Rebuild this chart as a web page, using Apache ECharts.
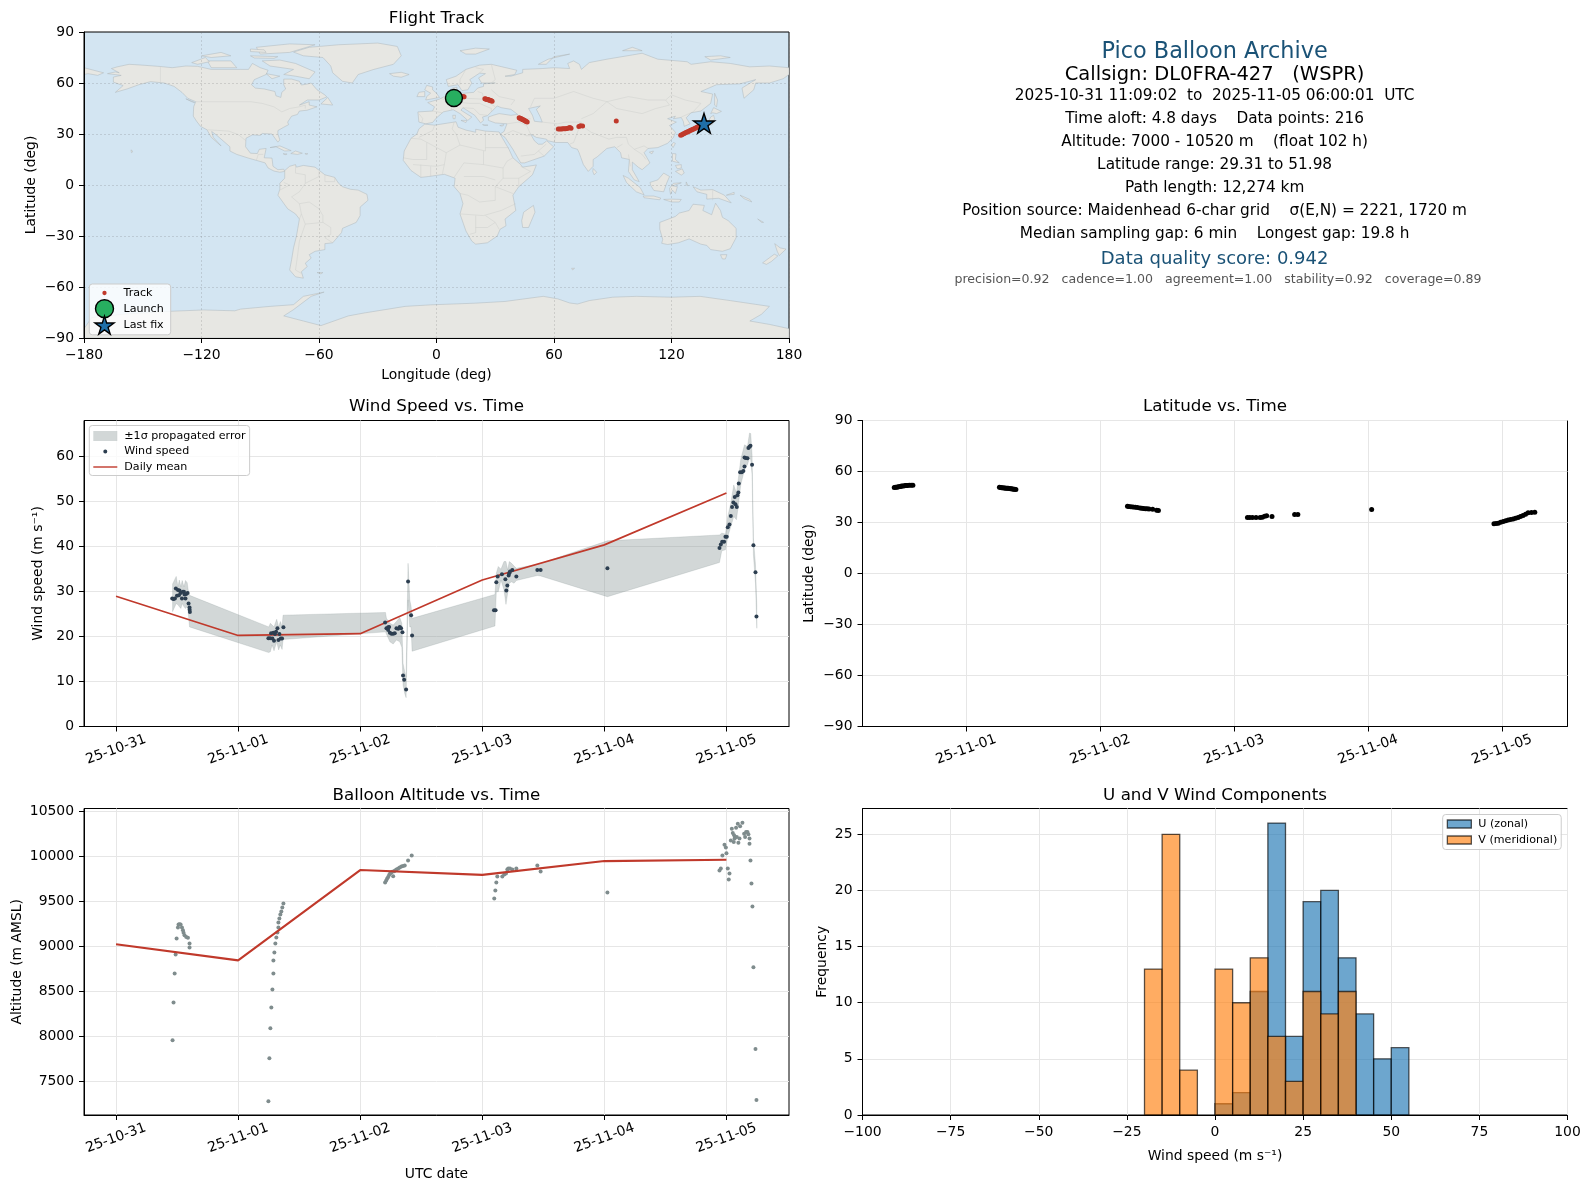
<!DOCTYPE html>
<html><head><meta charset="utf-8">
<style>html,body{margin:0;padding:0;background:#fff}#c{width:1589px;height:1189px}</style>
<script src="https://cdn.jsdelivr.net/npm/echarts@6/dist/echarts.min.js"></script>
</head><body><div id="c"></div>
<script>
// ---------- text ----------
const infoLines = [
 ['Pico Balloon Archive', 52, 22.4, '#1a5276', 1214.6],
 ['Callsign: DL0FRA-427   (WSPR)', 74.6, 19.5, '#000', 1214.6],
 ['2025-10-31 11:09:02  to  2025-11-05 06:00:01  UTC', 96, 15.3, '#000', 1214.6],
 ['Time aloft: 4.8 days    Data points: 216', 119, 15.3, '#000', 1214.6],
 ['Altitude: 7000 - 10520 m    (float 102 h)', 142.4, 15.3, '#000', 1214.6],
 ['Latitude range: 29.31 to 51.98', 165.2, 15.3, '#000', 1214.6],
 ['Path length: 12,274 km', 188.2, 15.3, '#000', 1214.6],
 ['Position source: Maidenhead 6-char grid    σ(E,N) = 2221, 1720 m', 211.5, 15.3, '#000', 1214.6],
 ['Median sampling gap: 6 min    Longest gap: 19.8 h', 234.2, 15.3, '#000', 1214.6],
 ['Data quality score: 0.942', 259, 18, '#1a5276', 1214.6],
 ['precision=0.92   cadence=1.00   agreement=1.00   stability=0.92   coverage=0.89', 279.4, 12.57, '#555', 1218]
];
const dayTicks = [0,1,2,3,4,5];
const dayLabels = ['25-10-31','25-11-01','25-11-02','25-11-03','25-11-04','25-11-05'];

// ---------- map: land outlines as [lon,lat] ----------
const landShapes = [
 [[-168,65.5],[-164,66.5],[-162,66],[-166,68.5],[-163,69.5],[-157,71],[-150,70.5],[-141,69.7],[-135,69],[-128,70],[-122,69.8],[-115,68],[-108,68],[-100,68],[-96,68],[-94,71.5],[-90,69],[-86,67.5],[-87,65],[-93,62],[-94.5,59],[-92.5,57],[-88,56.5],[-82.5,55],[-82,52.5],[-79.5,51.5],[-79,54.5],[-77,56.5],[-78,59],[-78,62.3],[-74,62.3],[-70,61],[-69,58.8],[-65.5,59.5],[-64,60],[-61,56],[-57,53],[-56,51.8],[-60,50],[-66,50],[-70,47],[-65,49],[-65,47],[-61,46],[-66,44],[-70,43.5],[-71,41.5],[-74,40.5],[-76,37],[-75.5,35.5],[-78,34],[-81,32],[-81,30],[-80,26.5],[-81,25.2],[-82.5,27.5],[-84,30],[-89,30.3],[-90,29.2],[-94,29.5],[-97.3,27.5],[-97.5,22.5],[-95,18.7],[-91.5,18.5],[-90.5,21],[-87,21.5],[-88,16],[-84,15.8],[-83.5,11],[-81,9],[-78,9.3],[-77.5,8],[-80,7.5],[-83,8.2],[-86,10],[-87.5,13],[-92,14.5],[-96,15.8],[-102,18],[-105.5,20],[-105.5,22.5],[-109,26],[-112.5,29.5],[-114.8,31.5],[-114,28],[-110,23],[-112,25],[-115,28],[-117.2,32.5],[-120.5,34.5],[-122.5,37.5],[-124.2,40.5],[-124,46],[-123,49],[-127,51],[-130,54.5],[-134,58],[-139,60],[-146,60.8],[-152,59],[-158,56.5],[-164,54.5],[-160,58.5],[-165,60.5],[-165,63.5],[-161,64.5]],
 [[-73,78.2],[-65,81],[-50,82.5],[-30,83.5],[-20,81.5],[-18,76],[-22,71],[-32,68],[-40,65],[-43,60],[-48,61],[-53,66],[-54,70],[-58,75],[-68,76]],
 [[-80,73.5],[-72,71.5],[-62,66.5],[-65,62.5],[-72,64],[-78,65],[-73,68],[-85,70],[-89,73]],
 [[-117,73],[-105,73],[-102,69],[-115,69]],
 [[-125,72],[-118,75],[-116,72.5],[-122,71]],
 [[-90,77],[-75,78],[-62,82.5],[-75,83],[-92,81]],
 [[-95,76],[-81,75.5],[-83,74.5],[-93,74.7]],
 [[-120,76],[-110,78],[-105,76],[-115,75]],
 [[-95,80],[-88,79.5],[-87,78],[-95,78.5]],
 [[-87,65.5],[-80,64],[-84,62.5]],
 [[-59,47.7],[-55.5,51.5],[-53,47]],
 [[-128,50.7],[-123.5,48.5],[-125,49]],
 [[-85,22],[-80,23],[-74.2,20.2],[-77.5,20],[-82,22.5]],
 [[-74.4,18.5],[-72,20],[-68.5,18.7],[-71,18]],
 [[-78.3,18.4],[-76.3,18.2],[-77.3,17.8]],
 [[-67.2,18.5],[-65.7,18.4],[-66.5,18]],
 [[-156,20.7],[-155,19.7],[-155.8,19]],
 [[-77.5,8.5],[-75,11],[-72,12],[-71.5,10.5],[-68,11.5],[-62,10.5],[-57,6],[-52,4.5],[-50,1],[-48,-1],[-44,-2.5],[-40,-3],[-35.5,-5.5],[-35,-9],[-39,-13],[-39,-18],[-41,-22],[-48,-25.5],[-48.5,-28],[-53,-34],[-57,-34.5],[-57,-38],[-62,-39],[-65,-41],[-64,-43],[-67,-46],[-66,-48],[-69,-51],[-68,-54.8],[-72,-54],[-75,-50],[-74,-44],[-73,-37],[-71.5,-30],[-70,-20],[-72,-17],[-76,-14],[-81,-6],[-80,-2.5],[-80,1],[-77.5,4]],
 [[-61,-51.5],[-58,-51.5],[-59,-52.3]],
 [[-180,-84.5],[-176,-78],[-160,-76],[-136,-74.3],[-119,-73.5],[-103,-74],[-100,-73],[-85,-71.4],[-73,-70.4],[-68,-65.5],[-57.4,-63],[-64,-65.5],[-73,-73.3],[-78,-77],[-68,-80],[-59,-82.7],[-45,-77],[-37,-75.3],[-16,-71.4],[-3,-70.5],[20,-69.5],[35,-68.5],[54.5,-65.5],[62,-67],[68,-69.4],[72,-70],[78,-68],[90,-66],[102,-65.5],[120,-66],[134.6,-65.5],[150,-68],[170,-71.4],[166,-76],[160,-80],[170,-82],[180,-84.5],[180,-90],[-180,-90]],
 [[-9,37],[-9.5,43],[-2,43.5],[-1,46],[-4.5,48.5],[1.5,50.5],[4,52],[8,54],[8,57],[10.5,57.5],[10,54.5],[14,54],[19,54.5],[21,57],[24,58],[24,59.5],[30,60],[23,60],[21.5,63],[25,65.5],[22,65.8],[17,62],[18,60],[16,56],[13,55.5],[11,59],[6,58],[5,62],[10,64],[15,68],[22,70.5],[28,71],[41,67.5],[40,65],[35,64],[38,64],[44,66],[44,68],[54,68.5],[60,69],[68,68.5],[67,71.5],[70,73],[73,71],[74,68],[78,72],[87,74],[100,76.5],[105,77.5],[113,74],[128,72.5],[130,71],[140,72.5],[150,71.5],[160,69.5],[170,70],[180,69],[180,65],[177,62.5],[170,60],[163,60],[162,56],[157,51],[156,57],[163,62],[155,59.5],[143,59],[135,55],[141,53.5],[140,48],[135,43.5],[130,42.5],[127.5,39.5],[129.5,36],[126.5,34.5],[126,37.5],[125,39.7],[121,39],[122,40.5],[118,39],[122.5,37],[119,35],[122,31],[121,28],[118,24.5],[113,22],[108,21.5],[106,19],[109,13],[105,9],[103,10.5],[100,13.5],[100,9],[103.5,2],[101,3],[98,8],[98.5,15],[94.5,16],[94,19],[91,22.5],[87,21.5],[82,16.5],[80,15],[80,11],[77.5,8],[75,12],[72.8,19],[72,21],[69,22],[67,25],[61,25],[57,26],[56,27],[51,28],[48,30],[50,26],[52,24],[54,24],[56.3,26],[59.8,22.5],[55,17],[45,13],[43,13],[39,21],[35,28],[32.5,30],[34.5,31.5],[36,36],[30,36.5],[26.5,38],[26.5,40],[29,41],[32,42],[38,41],[41.5,41.5],[38,44.5],[33,45.5],[31,46.5],[28,43],[26,40.8],[23.5,40],[24,38],[22.5,36.5],[19.5,41],[13.5,45.5],[12.5,44],[18,40],[16,38],[12,42],[8.5,44.3],[3.5,43],[0,39.5],[-2,36.8],[-5.5,36]],
 [[-180,69],[-175,67.5],[-170,66],[-173,64.5],[-178,65.5],[-180,65]],
 [[-6,35.8],[-1,35.2],[10,37.2],[11,34],[15,32.3],[20,31],[20,32.8],[25,31.7],[32,31.2],[32.5,30],[34,27],[37,21],[39,16],[43,12],[44,10.5],[51,11.8],[49,6],[42,-1],[39,-6],[40.5,-15],[35,-20],[35.5,-24],[32.5,-26],[31,-30],[26,-34],[20,-34.8],[18,-33],[15,-27],[12,-17],[13.5,-11],[12,-5],[9,-1],[9.5,4],[4,6.3],[-4,5],[-8,4.5],[-13,8.5],[-17,14.5],[-16.5,20],[-13,27.5],[-10,30],[-9,33]],
 [[49.5,-12],[50.3,-16],[47,-25],[44,-25],[43.5,-21],[44.5,-16]],
 [[-5.5,50],[1.5,51.5],[0,54],[-2,56],[-2,57.7],[-5,58.6],[-6,56],[-3,54],[-5,52]],
 [[-10,52],[-6,52],[-6,55],[-9,54.5]],
 [[-24,65.5],[-18,66.3],[-14,65],[-18,63.4],[-22,64]],
 [[12,79],[20,80.5],[27,80],[20,77],[15,77]],
 [[52,71],[57,74],[68,77],[60,75.5],[56,71]],
 [[95,79],[105,79],[100,81]],
 [[137,75.5],[145,76],[150,75],[140,73.5]],
 [[142,54],[143.5,50],[143,46],[142,47],[142,52]],
 [[130.8,34],[135,35.7],[139,37.5],[140,40],[141.5,41],[142,39],[140.8,35.5],[137,34.5],[135,33.5],[132,33.5]],
 [[130,33.5],[132,33],[131,31],[130,31.5]],
 [[140,42],[141.5,45.5],[145.5,43.3],[143,42],[141,42.5]],
 [[121,25],[122,24.5],[120.8,22],[120,23.5]],
 [[108.7,19.3],[110.8,20],[110,18.3]],
 [[120.5,18.5],[122.3,18.3],[122,15],[124,13],[120.5,14]],
 [[122,8],[125.5,9.5],[126.5,7],[125,5.8]],
 [[122,11.5],[125,12],[125,10],[123,9.5]],
 [[109,1.5],[113,3],[116,7],[119,5],[117.5,1],[116,-4],[111,-3.2],[109.5,-0.5]],
 [[95.3,5.6],[98,4],[104,-1.5],[106,-5.8],[102,-4],[97,1.5]],
 [[105.5,-6.5],[111,-6.5],[114.5,-7.7],[114,-8.7],[106,-7.5]],
 [[119.5,-5.5],[119,-2],[121,1],[125,1.3],[120.5,-0.5],[123,-1],[122,-5],[120.5,-3]],
 [[131,-1],[135,-3],[141,-2.7],[147,-6],[150.5,-10.5],[144,-7.8],[138,-8.3],[138,-5.5],[133,-4]],
 [[116,-8.5],[120,-8.3],[125,-8.5],[124,-10],[120,-10]],
 [[148,-6],[152,-4.3],[152,-5.5]],
 [[127.5,1.8],[128.5,-0.5],[127.5,0]],
 [[155,-6],[160,-8.5],[161,-10],[157,-8]],
 [[80,9.7],[81.8,7.5],[80.5,6],[79.8,8]],
 [[114,-22],[114,-26],[115.5,-32],[115,-34.3],[118,-35],[123.5,-34],[129,-31.7],[135,-34.8],[138,-35.5],[140,-38],[146,-39],[150,-37.5],[153,-31],[153,-25.5],[149,-21],[146,-19],[145,-15],[142.5,-10.7],[141.5,-14],[140.5,-17.5],[136,-15],[136.8,-12],[131,-11.3],[129,-15],[124,-16.5],[122,-18.5]],
 [[145,-41],[148.3,-41],[147.5,-43.5],[146,-43.5]],
 [[172.7,-34.5],[175.5,-37],[178.5,-37.7],[175,-41.5],[174,-39]],
 [[172.5,-40.7],[174.3,-41.7],[171,-45],[168.5,-46.7],[166.5,-45.8]],
 [[69,-49],[70.5,-49],[69.5,-50]],
 [[164,-20],[167,-22],[166,-22]],
 [[12.5,38],[15.5,38],[15,36.7]],
 [[8.3,41],[9.7,41],[9.5,39],[8.5,39]],
 [[23.5,35.5],[26.3,35.2],[24.5,35]],
 [[32.3,35],[34.5,35.5],[33.5,34.6]]
];
const waterShapes = [
 [[47,45],[53,46.5],[51,44.5],[53,40],[54,37],[50,37.5],[49,41]]
];
const borderLines = [
 [[-141,69.7],[-141,60]],
 [[-123,49],[-95,49],[-89,48],[-83,46],[-79,43],[-75,45],[-70,46],[-67,47],[-67,45]],
 [[-117,32.5],[-106,31.7],[-101,29.5],[-97.3,26]],
 [[-92,14.5],[-91,18],[-88.5,18]],
 [[-72,12],[-72,7],[-67,6],[-67,1],[-70,-4],[-74,-7],[-70,-11],[-69,-17],[-70,-20]],
 [[-67,1],[-60,5],[-60,8]],[[-57,6],[-57,2],[-52,2],[-52,4.5]],[[-80,-3],[-75,0],[-78,1.5]],
 [[-70,-11],[-65,-10],[-60,-14],[-58,-18],[-58,-22],[-54,-25],[-54,-29],[-57,-31],[-53,-34]],
 [[-69,-17],[-67,-23],[-58,-22]],[[-67,-23],[-70,-33],[-71,-42],[-72,-50],[-69,-52]],
 [[-2,43.5],[3,42.5]],[[-9,42],[-7,39],[-7.5,37]],[[2,51],[6,49.5],[8,47.5],[7.5,44]],[[7,53.5],[6,50]],[[14,54],[15,51],[12.5,48.5],[8,47.5]],
 [[15,51],[24,50.5],[23.5,54],[21,55]],[[24,50.5],[30,46]],[[12.5,48.5],[17,48],[22,48],[28,45],[28,43]],[[13.5,45.5],[19,45],[22,41.5],[26,41]],
 [[28,56],[32,52],[40,50],[38,47]],[[28,71],[30,62],[28,60]],[[22,66],[24,68],[20,69]],[[15,68],[12,62],[12,59]],
 [[48,46],[50,51],[60,51],[70,55],[80,51],[87,49]],[[87,49],[98,52],[108,50],[117,50],[120,53],[127,50],[135,48],[131,43]],
 [[87,49],[92,45],[105,42],[112,45],[119,47],[117,50]],[[131,43],[125,40]],
 [[74,39],[80,42],[87,49]],[[54,37],[62,36],[66,37],[74,37]],[[60,25],[61,30],[61,36]],[[74,37],[72,31],[70,25],[68,24]],[[74,35],[79,31],[88,27],[92,28],[97,28],[98,24],[101,21],[106,23],[108,21.5]],
 [[92,22],[95,24]],[[101,21],[105,18],[107,15]],[[99,11],[98,18]],
 [[36,36],[42,37],[46,35],[48,30]],[[34.5,29.5],[39,32],[46,29],[48,29]],[[56,24],[52,20],[55,17]],[[43,17],[50,18],[52,20]],[[42,37],[45,39],[48,39]],
 [[-9,28],[-2,32],[-1,35]],[[-13,27.5],[-8,27],[5,19],[12,23.5],[10,30],[8,33],[9,37]],[[12,23.5],[25,20],[25,31.7]],[[25,22],[37,22]],[[-17,16],[-12,15],[-5,15],[-5,25]],
 [[5,19],[4,12],[3,6.5]],[[14,13],[24,12],[24,20]],[[14,13],[9,4.5]],[[24,12],[34,10],[36,14],[39,16]],[[34,10],[34,4],[42,4],[42,-1]],[[42,4],[48,8],[43,11]],[[34,4],[30,-1],[39,-5]],
 [[14,5],[24,5],[30,3]],[[12,-5],[16,-6],[22,-10],[30,-9],[30,-1]],[[12,-17],[24,-18],[33,-15],[40.5,-11]],[[20,-18],[20,-28],[17,-29]],[[25,-18],[30,-22],[32,-26]],[[20,-25],[26,-25],[30,-22]],
 [[-8,12],[-8,4.5]],[[-3,11],[-3,5]],[[-12,12],[0,11],[4,12]],
 [[141,-2.7],[141,-9]]
];

// ---------- map: track ----------
const trackLon = [9.0,9.4,9.8,10.3,10.8,11.3,11.8,12.2,12.7,13.2,13.6,14.1,24.7,25.1,25.5,25.9,26.3,26.7,27.1,27.5,28.0,28.4,42.2,42.6,43.0,43.4,43.8,44.2,44.6,45.0,45.4,45.8,46.3,62.2,63.0,63.8,64.5,65.2,65.9,66.6,67.4,68.1,68.7,72.7,73.5,74.6,91.8,124.7,125.3,125.9,126.5,127.1,127.7,128.3,128.9,129.5,130.1,130.7,131.3,131.9,132.5,133.1,133.7,134.3,134.9,135.5,136.3];
const trackLat = [50.6,50.8,51.0,51.2,51.4,51.5,51.6,51.7,51.8,51.9,51.95,51.98,50.8,50.6,50.4,50.3,50.2,50.1,49.9,49.7,49.5,49.2,39.5,39.3,39.1,38.9,38.6,38.4,38.2,38.0,37.7,37.3,37.0,33.0,33.0,33.0,33.1,33.1,33.1,33.2,33.6,33.8,33.4,34.4,34.9,34.7,37.65,29.3,29.6,30.0,30.3,30.7,31.0,31.3,31.6,32.0,32.3,32.7,33.0,33.3,33.7,34.0,34.4,34.8,35.2,35.6,36.1];
const launchLonLat = [8.9, 51.2];
const lastFixLonLat = [136.6, 36.3];

// ---------- wind ----------
const windDay = [.460,.471,.482,.490,.499,.507,.515,.520,.529,.540,.548,.556,.561,.569,.575,.586,.594,.602,.603,.605,
 1.248,1.262,1.270,1.281,1.289,1.294,1.302,1.311,1.322,1.330,1.338,1.349,1.360,1.371,
 2.204,2.215,2.229,2.237,2.229,2.243,2.256,2.270,2.283,2.297,2.311,2.324,2.335,2.346,2.351,2.360,2.376,2.392,2.417,2.425,
 3.096,3.109,3.115,3.126,3.161,3.189,3.197,3.205,3.216,3.221,3.227,3.246,3.279,3.451,3.478,4.025,
 4.943,4.954,4.965,4.981,4.992,5.003,5.011,5.025,5.036,5.046,5.057,5.068,5.074,5.085,5.090,5.098,5.101,5.112,5.126,5.139,5.148,5.148,5.158,5.172,5.180,5.189,5.197,5.210,5.221,5.238,5.246];
const windSpeed = [28.4,28.3,28.4,30.6,29.0,30.3,29.1,30.2,29.6,28.4,29.9,29.9,29.3,28.4,29.4,29.6,27.3,26.4,25.9,25.4,
 19.6,19.6,20.7,19.5,20.8,19.0,20.5,21.0,21.8,19.2,20.5,19.5,19.5,22.0,
 23.1,21.8,22.0,22.1,21.4,20.8,20.6,20.6,20.7,21.8,21.7,22.1,21.8,20.9,11.3,10.4,8.2,32.2,24.7,20.2,
 25.8,25.8,32.0,33.3,33.8,32.7,30.2,31.3,33.5,34.0,34.4,34.7,33.3,34.7,34.7,35.1,
 39.6,40.4,41.0,41.0,42.1,42.1,44.2,44.8,46.7,48.7,49.7,50.9,49.3,48.7,51.3,51.9,53.9,56.4,56.4,56.7,57.7,59.7,59.6,59.5,61.8,62.1,62.3,58.1,40.2,34.2,24.4];
const bandDay = [.463,.493,.507,.518,.531,.542,.556,.569,.583,.591,.602,1.251,1.264,1.278,1.294,1.316,1.332,1.346,1.360,1.368,2.207,2.215,2.243,2.27,2.297,2.324,2.341,2.351,2.365,2.376,2.392,2.406,2.417,2.425,3.104,3.115,3.131,3.153,3.178,3.194,3.208,3.221,3.24,3.26,3.279,3.451,3.478,4.025,4.943,4.962,4.992,5.011,5.036,5.06,5.082,5.098,5.117,5.148,5.172,5.189,5.199,5.21,5.221,5.238,5.249];
const bandUpper = [31.6,33.3,31.0,32.5,31.0,32.4,31.0,32.4,31.9,30.3,29.1,22.1,22.9,22.5,22.1,23.8,22.1,23.3,22.1,24.7,25.3,24.0,22.9,22.5,23.3,24.2,22.9,14.0,12.1,11.0,36.2,28.1,26.6,24.0,29.3,34.0,35.5,34.9,36.6,36.6,34.7,36.6,36.2,35.6,35.1,36.0,36.2,41.2,42.5,42.9,42.7,46.6,49.6,53.6,51.8,55.1,59.2,62.5,62.1,65.1,65.0,60.3,41.8,35.9,26.6];
const bandLower = [25.5,27.3,27.0,26.6,26.2,27.3,26.6,26.2,26.6,25.5,22.1,16.4,16.6,18.1,16.8,18.8,17.0,18.1,17.1,19.3,21.0,20.5,18.8,18.3,19.2,18.8,17.6,9.2,7.3,6.4,28.1,22.1,22.1,16.7,22.3,29.9,29.9,32.5,30.3,27.1,29.6,31.8,32.1,31.8,32.4,33.5,33.4,28.8,36.4,39.0,39.2,42.1,44.4,46.6,45.9,49.2,53.6,57.0,58.1,59.6,59.2,55.9,38.1,31.8,21.8];
const meanDay = [0,1,2,3,4,5];
const meanWind = [28.9,20.2,20.6,32.5,40.3,51.8];

// ---------- latitude ----------
const latDay = [.463,.471,.480,.488,.496,.507,.512,.520,.529,.540,.548,.553,.561,.575,.589,.602,
 1.248,1.256,1.264,1.272,1.281,1.289,1.297,1.305,1.313,1.322,1.330,1.338,1.346,1.354,1.362,1.371,
 2.204,2.213,2.229,2.245,2.262,2.278,2.297,2.311,2.324,2.338,2.351,2.365,2.392,2.422,2.435,
 3.0997,3.117,3.137,3.164,3.194,3.211,3.228,3.243,3.283,3.452,3.476,4.027,
 4.94,4.956,4.972,4.990,5.009,5.028,5.046,5.064,5.083,5.101,5.12,5.138,5.157,5.176,5.195,5.22,5.245];
const latDeg = [50.6,50.7,50.8,50.9,51.1,51.2,51.3,51.4,51.5,51.6,51.7,51.75,51.8,51.85,51.9,51.98,
 50.7,50.6,50.5,50.4,50.3,50.25,50.2,50.15,50.1,50.0,49.9,49.8,49.7,49.6,49.5,49.4,
 39.5,39.4,39.3,39.1,38.95,38.8,38.6,38.4,38.3,38.15,38.1,38.0,37.8,37.2,37.1,
 32.95,32.95,32.95,32.95,32.95,33.1,33.7,33.9,33.5,34.7,34.7,37.65,
 29.3,29.4,29.6,30.1,30.6,31.0,31.4,31.7,32.0,32.5,33.0,33.5,34.1,34.9,35.7,35.9,36.1];

// ---------- altitude ----------
const altDay = [.463,.471,.480,.488,.496,.507,.512,.520,.529,.540,.548,.553,.561,.575,.589,.602,.602,
 1.248,1.256,1.264,1.272,1.281,1.289,1.289,1.297,1.305,1.313,1.322,1.330,1.330,1.338,1.346,1.354,1.362,1.371,
 2.204,2.213,2.221,2.229,2.237,2.245,2.253,2.262,2.270,2.278,2.286,2.297,2.311,2.324,2.338,2.351,2.365,2.392,2.422,
 3.098,3.107,3.115,3.123,3.164,3.180,3.194,3.205,3.213,3.227,3.246,3.279,3.451,3.478,4.025,
 4.943,4.954,4.967,4.984,4.995,5.0,5.011,5.025,5.019,5.036,5.044,5.052,5.060,5.063,5.067,5.072,5.079,5.085,5.098,5.093,5.107,5.112,5.131,5.145,5.153,5.161,5.172,5.180,5.189,5.189,5.197,5.205,5.213,5.221,5.238,5.246];
const altM = [7957,8378,8700,8911,9089,9211,9244,9248,9244,9211,9181,9152,9126,9104,9096,9033,8989,
 7278,7756,8089,8322,8522,8700,8844,8933,9033,9100,9156,9211,9267,9311,9356,9389,9433,9478,
 9711,9733,9756,9774,9796,9811,9819,9830,9781,9837,9844,9856,9867,9878,9889,9896,9900,9956,10011,
 9533,9622,9711,9778,9778,9800,9811,9856,9867,9867,9856,9867,9900,9833,9600,
 9844,9867,10011,10133,10100,10037,9867,9811,9744,10178,10311,10263,10163,10237,10200,10215,10322,10218,10155,10366,10200,10337,10377,10255,10218,10274,10274,10248,10200,10144,9956,9700,9445,8768,7858,7291];
const meanAlt = [9025,8845,9850,9797,9950,9965];

// ---------- histogram ----------
const binStart = [-20,-15,-10,-5,0,5,10,15,20,25,30,35,40,45,50];
const binWidth = 5;
const uCounts = [0,0,0,0,1,2,11,26,7,19,20,14,9,5,6];
const vCounts = [13,25,4,0,13,10,14,7,3,11,9,11,0,0,0];

// ---------- tick lists ----------
const latTicks = [-90,-60,-30,0,30,60,90];
const lonTicks = [-180,-120,-60,0,60,120,180];
const windTicks = [0,10,20,30,40,50,60];
const altTicks = [7500,8000,8500,9000,9500,10000,10500];
const histXTicks = [-100,-75,-50,-25,0,25,50,75,100];
const histYTicks = [0,5,10,15,20,25];

// ---------- build ----------
const FONT = '"DejaVu Sans", sans-serif';
const STAR = 'path://M50 0L61 35L98 35L68 57L79 91L50 70L21 91L32 57L2 35L39 35Z';
const DOT_MAP = 'path://M0 0L0 0M100 100L100 100M50 38A12 12 0 1 1 49.9 38Z';
const DOT_WIND = 'path://M0 0L0 0M240 100L240 100M120 30A20 20 0 1 1 119.9 30Z';
const LINE_WIND = 'path://M0 0L0 0M240 100L240 100M0 43H240V57H0Z';
const GRIDC = '#e6e6e6';
const plain = v => String(v).replace('-','−');
const pairs = (a,b)=>a.map((v,i)=>[v,b[i]]);
const rects = [
 {left:84,top:32,width:705,height:306},
 {left:84,top:420.5,width:705,height:306},
 {left:862.5,top:420.5,width:705,height:306},
 {left:84,top:808.5,width:705,height:306.5},
 {left:862.5,top:808.5,width:705,height:306.5}
];
const grid = rects.map((r,i)=>Object.assign({show:true,borderColor:'#000',borderWidth:1,containLabel:false,
   backgroundColor:i===0?'#d3e5f2':'#fff'},r));
function xAxis(idx,min,max,ticks,opt){
 return Object.assign({type:'value',gridIndex:idx,min,max,
  axisLine:{show:true,onZero:false,lineStyle:{color:'#000',width:1}},
  axisTick:{show:true,length:5,customValues:ticks,lineStyle:{color:'#000',width:1}},
  axisLabel:{customValues:ticks,color:'#000',fontFamily:FONT,fontSize:13.9,margin:10.5,hideOverlap:false,formatter:plain},
  splitLine:{show:true,lineStyle:{color:GRIDC,width:1}},
  nameLocation:'middle',nameTextStyle:{color:'#000',fontFamily:FONT,fontSize:13.9}},opt||{});
}
function yAxis(idx,min,max,ticks,name,gap,opt){
 return Object.assign({type:'value',gridIndex:idx,min,max,name,nameGap:gap,nameLocation:'middle',
  nameTextStyle:{color:'#000',fontFamily:FONT,fontSize:13.9},
  axisLine:{show:true,onZero:false,lineStyle:{color:'#000',width:1}},
  axisTick:{show:true,length:5,customValues:ticks,lineStyle:{color:'#000',width:1}},
  axisLabel:{customValues:ticks,color:'#000',fontFamily:FONT,fontSize:13.9,margin:10,padding:[3,0,0,0],hideOverlap:false,formatter:plain},
  splitLine:{show:true,lineStyle:{color:GRIDC,width:1}}},opt||{});
}
const dateLabel = {rotate:20,align:'center',verticalAlign:'middle',margin:23,color:'#000',fontFamily:FONT,fontSize:13.9,
  customValues:dayTicks,hideOverlap:false,formatter:v=>dayLabels[dayTicks.indexOf(v)]};
const mapGrid = {show:true,lineStyle:{color:'rgba(110,110,110,0.22)',width:1,type:[2,2]}};
const xAxes = [
 xAxis(0,-180,180,lonTicks,{name:'Longitude (deg)',nameGap:30,z:3,splitLine:mapGrid}),
 xAxis(1,-0.2625,5.5125,dayTicks,{axisLabel:dateLabel}),
 xAxis(2,0.2259,5.4891,dayTicks.slice(1),{axisLabel:Object.assign({},dateLabel,{customValues:dayTicks.slice(1)})}),
 xAxis(3,-0.2625,5.5125,dayTicks,{axisLabel:dateLabel,name:'UTC date',nameGap:52}),
 xAxis(4,-100,100,histXTicks,{name:'Wind speed (m s⁻¹)',nameGap:34})
];
const yAxes = [
 yAxis(0,-90,90,latTicks,'Latitude (deg)',46,{z:3,splitLine:mapGrid}),
 yAxis(1,0,67.9,windTicks,'Wind speed (m s⁻¹)',39),
 yAxis(2,-90,90,latTicks,'Latitude (deg)',46),
 yAxis(3,7125,10535,altTicks,'Altitude (m AMSL)',60),
 yAxis(4,0,27.3,histYTicks,'Frequency',33)
];
function polyRender(shapes,fill,stroke){
 return (params,api)=>({type:'polygon',shape:{points:shapes[params.dataIndex].map(p=>api.coord(p))},
   style:{fill,stroke,lineWidth:0.7},silent:true});
}
const idxData = a=>a.map((_,i)=>[0,0,i]);
function histRender(fill,stroke){
 return (params,api)=>{
  const a=api.coord([api.value(0),api.value(2)]), b=api.coord([api.value(1),0]);
  return {type:'rect',shape:{x:a[0],y:a[1],width:b[0]-a[0],height:b[1]-a[1]},style:{fill,stroke,lineWidth:1.3}};
 };
}
const histRows = c => binStart.map((s,i)=>[s,s+binWidth,c[i]]).filter(r=>r[2]>0);
const RED='#c0392b';
const series = [
 {type:'custom',name:'land',xAxisIndex:0,yAxisIndex:0,z:1,silent:true,clip:true,data:idxData(landShapes),
   renderItem:polyRender(landShapes,'#e7e7e3','rgba(170,178,182,0.65)')},
 {type:'custom',name:'water',xAxisIndex:0,yAxisIndex:0,z:1,silent:true,clip:true,data:idxData(waterShapes),
   renderItem:polyRender(waterShapes,'#d3e5f2','rgba(170,178,182,0.65)')},
 {type:'custom',name:'borders',xAxisIndex:0,yAxisIndex:0,z:1,silent:true,clip:true,data:idxData(borderLines),
   renderItem:(params,api)=>({type:'polyline',shape:{points:borderLines[params.dataIndex].map(p=>api.coord(p))},
     style:{fill:null,stroke:'rgba(200,202,200,0.5)',lineWidth:0.8},silent:true})},
 {type:'scatter',name:'Track',xAxisIndex:0,yAxisIndex:0,z:5,symbolSize:5,itemStyle:{color:RED,opacity:1},data:pairs(trackLon,trackLat)},
 {type:'scatter',name:'Launch',xAxisIndex:0,yAxisIndex:0,z:6,symbolSize:17,itemStyle:{color:'#27ae60',borderColor:'#000',borderWidth:1.4,opacity:1},data:[launchLonLat]},
 {type:'scatter',name:'Last fix',xAxisIndex:0,yAxisIndex:0,z:7,symbol:STAR,symbolSize:21,symbolKeepAspect:true,itemStyle:{color:'#1f6fa8',borderColor:'#000',borderWidth:1.4,opacity:1},data:[lastFixLonLat]},

 {type:'custom',name:'±1σ propagated error',xAxisIndex:1,yAxisIndex:1,z:2,silent:true,clip:true,data:[[0,0]],
   itemStyle:{color:'rgba(127,140,141,0.35)'},
   renderItem:(params,api)=>{
     const pts=bandDay.map((d,i)=>api.coord([d,bandUpper[i]]));
     for(let i=bandDay.length-1;i>=0;i--)pts.push(api.coord([bandDay[i],bandLower[i]]));
     return {type:'polygon',shape:{points:pts},style:{fill:'rgba(127,140,141,0.35)',stroke:'rgba(127,140,141,0.2)',lineWidth:1}};
   }},
 {type:'scatter',name:'Wind speed',xAxisIndex:1,yAxisIndex:1,z:4,symbolSize:4,itemStyle:{color:'#2c3e50',opacity:1},data:pairs(windDay,windSpeed)},
 {type:'line',name:'Daily mean',xAxisIndex:1,yAxisIndex:1,z:3,symbol:'none',lineStyle:{color:RED,width:1.7},itemStyle:{color:RED},data:pairs(meanDay,meanWind)},

 {type:'scatter',name:'lat',xAxisIndex:2,yAxisIndex:2,z:3,symbolSize:5,itemStyle:{color:'#000',opacity:1},data:pairs(latDay,latDeg)},

 {type:'scatter',name:'alt',xAxisIndex:3,yAxisIndex:3,z:3,symbolSize:4,itemStyle:{color:'#7f8c8d',opacity:1},data:pairs(altDay,altM)},
 {type:'line',name:'alt mean',xAxisIndex:3,yAxisIndex:3,z:4,symbol:'none',lineStyle:{color:RED,width:2.1},data:pairs(meanDay,meanAlt)},

 {type:'custom',name:'U (zonal)',xAxisIndex:4,yAxisIndex:4,z:2,encode:{x:[0,1],y:2},data:histRows(uCounts),
   itemStyle:{color:'rgba(31,119,180,0.65)'},renderItem:histRender('rgba(31,119,180,0.65)','rgba(0,0,0,0.65)')},
 {type:'custom',name:'V (meridional)',xAxisIndex:4,yAxisIndex:4,z:3,encode:{x:[0,1],y:2},data:histRows(vCounts),
   itemStyle:{color:'rgba(255,127,14,0.65)'},renderItem:histRender('rgba(255,127,14,0.65)','rgba(0,0,0,0.65)')}
];
const legendBase = {orient:'vertical',selectedMode:false,backgroundColor:'rgba(255,255,255,0.8)',borderColor:'#ccc',borderWidth:1,borderRadius:3,
  textStyle:{color:'#000',fontFamily:FONT,fontSize:11.1,padding:[0,0,0,2]}};
const legend = [
 Object.assign({},legendBase,{left:89.3,top:284,padding:[0,7,0,5],itemWidth:24,itemHeight:18,itemGap:-3,
  data:[{name:'Track',icon:DOT_MAP,itemStyle:{color:RED,borderWidth:0}},
        {name:'Launch',icon:'circle',itemStyle:{color:'#27ae60',borderColor:'#000',borderWidth:1.4}},
        {name:'Last fix',icon:STAR,itemStyle:{color:'#1f6fa8',borderColor:'#000',borderWidth:1.4}}]}),
 Object.assign({},legendBase,{left:89.3,top:425.5,padding:[5,4,3,4],itemWidth:24,itemHeight:10,itemGap:4.5,
  data:[{name:'±1σ propagated error',icon:'rect',itemStyle:{color:'rgba(127,140,141,0.35)',borderWidth:0}},
        {name:'Wind speed',icon:DOT_WIND,itemStyle:{color:'#2c3e50',borderWidth:0}},
        {name:'Daily mean',icon:LINE_WIND,itemStyle:{color:RED,borderWidth:0}}]}),
 Object.assign({},legendBase,{left:1442.7,top:814.5,padding:[4,4,4,4],itemWidth:24,itemHeight:8,itemGap:5,
  data:[{name:'U (zonal)',icon:'rect',itemStyle:{color:'rgba(31,119,180,0.65)',borderColor:'rgba(0,0,0,0.65)',borderWidth:1.3}},
        {name:'V (meridional)',icon:'rect',itemStyle:{color:'rgba(255,127,14,0.65)',borderColor:'rgba(0,0,0,0.65)',borderWidth:1.3}}]})
];
const titleText = [['Flight Track',436.5,18.5],['Wind Speed vs. Time',436.5,406.5],['Latitude vs. Time',1215,406.5],['Balloon Altitude vs. Time',436.5,795.5],['U and V Wind Components',1215,795.5]];
const graphic = infoLines.map(l=>({type:'text',x:l[4],y:l[1],silent:true,
   style:{text:l[0],fill:l[3],font:l[2]+'px '+FONT,align:'center',verticalAlign:'middle'}}))
  .concat(titleText.map(t=>({type:'text',x:t[1],y:t[2],silent:true,
   style:{text:t[0],fill:'#000',font:'16.7px '+FONT,align:'center',verticalAlign:'middle'}})));
const chart = echarts.init(document.getElementById('c'),null,{width:1589,height:1189,renderer:'canvas'});
chart.setOption({animation:false,backgroundColor:'#fff',textStyle:{fontFamily:FONT},grid,xAxis:xAxes,yAxis:yAxes,series,legend,graphic});
</script></body></html>
